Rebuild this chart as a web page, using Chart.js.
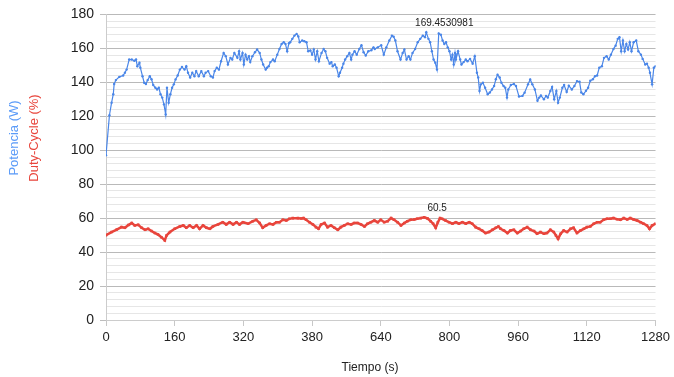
<!DOCTYPE html>
<html lang="es">
<head>
<meta charset="UTF-8">
<title>Potencia y Duty-Cycle</title>
<script src="https://cdn.jsdelivr.net/npm/chart.js@4.4.0/dist/chart.umd.min.js"></script>
<style>
  body { margin: 0; background: #fff; }
  #grafica { display: block; }
</style>
</head>
<body>
<canvas id="grafica" width="674" height="377"></canvas>
<script>
// datos
const potenciaT = [0,8,13,17,19,23,31,40,44,48,54,60,66,70,73,78,80,85,89,93,97,102,106,110,115,119,123,127,131,135,139,142,146,150,154,158,162,167,172,177,183,187,191,196,201,206,210,216,222,228,232,238,244,249,253,258,263,268,274,279,284,290,294,299,306,310,313,318,321,325,329,333,336,341,347,352,358,362,366,372,375,379,383,389,393,399,404,409,414,418,422,426,429,434,439,444,448,451,457,462,467,471,476,480,484,488,492,496,502,507,511,515,521,525,528,533,537,542,545,550,553,557,562,567,571,574,579,584,590,595,600,605,611,618,623,626,633,641,647,653,660,666,670,674,679,686,691,695,700,705,709,714,720,726,732,738,743,746,751,755,759,763,767,771,775,780,784,788,792,796,800,804,807,810,813,815,820,825,828,833,838,842,848,854,859,864,867,870,873,878,883,889,894,899,904,908,912,917,921,926,930,934,937,943,950,955,962,970,975,983,988,993,999,1005,1009,1013,1020,1025,1029,1035,1039,1044,1049,1053,1057,1063,1067,1073,1078,1085,1091,1097,1103,1107,1112,1118,1123,1128,1134,1139,1144,1149,1155,1160,1166,1171,1176,1182,1187,1192,1196,1200,1204,1208,1212,1216,1220,1224,1229,1235,1240,1246,1250,1256,1260,1264,1267,1272,1276,1280];
const potencia = [97,120.6,128,133,139,141.3,143.2,144,145.6,147.5,153.4,153.4,152.7,153.4,149.5,151.5,148.6,143.6,139.7,139,141.3,143.6,141.8,138.4,136.8,135.8,136.8,133,131,127,121,136.8,128,133,136.8,138.8,141.7,144,147.5,149,147.5,149.5,145.6,142.8,145.6,143.6,146.6,143.6,146.6,143.6,145.6,146.6,143.6,142.8,146.6,148.6,147.5,152.4,157.3,155.4,150.5,154.4,153.4,157.3,154.4,158.3,153.4,157.3,150.5,156.3,153.4,155.4,151.9,155.4,157.7,159.3,157.3,153.4,150.5,147.5,148.6,149.5,151.9,153.4,152.4,156.3,159.6,162.6,163.6,162.6,158.3,163,163.6,165.6,167.5,168.5,167,163.6,164.6,164.2,163.6,158.3,158.8,156.3,159.3,153.4,158.3,152.4,157.3,159.6,158.3,154.4,151,151.9,149.5,150.5,148.6,143.6,145.6,148.6,151,153.4,155.4,157.3,153.4,156.3,158.3,156.3,159.6,161.8,157.7,155.8,158.3,158.9,160.6,159.6,160.6,161.8,156.3,160.6,164.6,167.5,166.8,164.6,158.3,153.4,157.3,159.3,153.4,155.4,153.4,157.3,159.6,163.6,165.6,167.5,166.6,169.4530981,165.6,163.6,158.3,153.4,151.5,147.5,168.8,168,164.6,162.6,163.6,160.6,158.3,153.4,156.3,150.5,157.3,153.4,158.3,153.4,150.5,151.9,153.4,152.4,153.8,151,155.4,145.6,142.8,134.9,138.8,139.7,136.8,133,134,135.8,137.8,141.8,144.5,142.8,139.7,137.8,136.8,131,135.8,138.4,139,137.8,131.6,132,133.9,138.8,141.7,138.8,135.8,129.1,131,132.2,130,132,131,134.9,137.3,130,134.9,128,131,136.8,138.4,134.3,138,135.8,137.8,140.7,140.3,134,133,135,136.8,140.9,141.8,143.6,144,148.6,149.5,154.4,155.4,153.4,156.3,159.6,161.6,165.6,166.6,158.3,164.6,158.3,162.6,159.3,163.6,158.3,163.6,164.6,158.3,156.3,153.8,150.5,151,148.6,145.6,138.8,148.6,149.5];

const dutyT = [0,13,25,36,44,52,60,67,75,83,91,98,106,114,121,129,137,141,149,160,172,180,187,195,203,211,218,226,234,242,249,261,272,280,288,296,304,311,319,331,342,350,358,365,373,381,389,397,404,412,420,427,435,447,455,460,466,474,482,489,495,501,509,516,524,532,540,547,555,563,571,578,586,594,602,609,617,625,633,640,648,656,664,671,679,687,695,702,710,718,725,733,741,749,756,762,768,773,778,783,791,799,807,815,822,830,838,846,853,861,869,876,884,892,900,908,914,919,927,935,942,950,958,966,973,981,989,997,1004,1012,1020,1027,1035,1043,1048,1053,1059,1066,1074,1082,1089,1097,1105,1113,1120,1128,1136,1144,1151,1159,1167,1175,1182,1190,1198,1206,1214,1221,1229,1237,1245,1252,1260,1266,1272,1280];
const duty = [50,51.8,53.3,54.7,54.3,55.9,57.1,55.7,56.1,54.3,53.1,53.7,52.4,51.2,50.4,48.8,46.9,49.8,51.8,53.7,55.1,55.7,54.3,55.7,54.3,55.7,53.7,55.7,54.3,53.7,55.1,56.3,57.6,56.3,57.6,56.3,57.6,56.3,57.6,56.7,58.2,59,57.1,54.3,55.7,56.7,56.3,57.6,57.6,59,58.6,59.6,60,60,59.8,60,59,57.6,56.3,54.7,53.7,56.3,57.1,54.7,55.7,54.3,53.1,54.7,55.7,56.7,56.3,57.1,57.1,56.3,55.1,56.7,57.6,58.6,57.6,59,57.6,58.2,60,59,57.6,55.7,57.1,58.2,59,59.2,59.6,60,60.5,59.8,58.2,56.7,54.3,57.6,60,59.6,58.6,57.6,56.7,57.6,56.7,57.6,56.7,57.6,56.7,54.7,53.7,52.7,51.2,51.8,53.1,54.3,55.1,53.7,52.7,51.2,52.7,53.1,51.2,52.4,53.7,54.7,53.1,52.4,50.8,51.8,50.8,51.2,53.1,51.8,49.8,47.8,50.8,52.7,51.8,53.7,54.3,51.2,52.7,53.7,54.7,55.1,56.7,57.6,57.6,59,59.6,59.6,60,59.4,59,60,59.2,60,59.2,58.6,57.6,56.7,55.7,53.7,55.7,56.7];

const xTickLabels = ['0','160','320','380','640','800','960','1120','1280'];
const tituloPotencia = 'Potencia (W)';
const tituloDuty = 'Duty-Cycle (%)';
const tituloTiempo = 'Tiempo (s)';

const azul = '#4a86e8';
const rojo = '#e8453c';
const fuente = '"Liberation Sans", Arial, sans-serif';

// titulos de los ejes y etiqueta del maximo
const rotulos = {
  id: 'rotulos',
  afterDraw(chart) {
    const c = chart.ctx;
    c.save();
    c.textAlign = 'center';
    c.textBaseline = 'middle';
    c.font = '13px ' + fuente;
    c.translate(14, 138);
    c.rotate(-Math.PI / 2);
    c.fillStyle = '#5b9bf8';
    c.fillText(tituloPotencia, 0, 0);
    c.fillStyle = rojo;
    c.fillText(tituloDuty, 0, 20);
    c.restore();

    c.save();
    c.font = '12px ' + fuente;
    c.fillStyle = '#222';
    c.textAlign = 'center';
    c.textBaseline = 'middle';
    c.fillText(tituloTiempo, 370, 368);

    c.font = '10px ' + fuente;
    c.textBaseline = 'bottom';
    chart.data.datasets.forEach((ds, k) => {
      const vals = ds.data.map(p => p.y);
      const i = vals.indexOf(Math.max(...vals));
      const el = chart.getDatasetMeta(k).data[i];
      c.fillText(String(vals[i]), el.x + ds.labelDx, el.y - 4);
    });
    c.restore();
  }
};

const ctx = document.getElementById('grafica').getContext('2d');
new Chart(ctx, {
  type: 'line',
  data: {
    datasets: [{
      label: tituloPotencia,
      data: potenciaT.map((t, i) => ({ x: t, y: potencia[i] })),
      borderColor: azul,
      backgroundColor: azul,
      borderWidth: 1.2,
      pointRadius: 1.2,
      pointBorderWidth: 0,
      tension: 0,
      labelDx: 18
    }, {
      label: tituloDuty,
      data: dutyT.map((t, i) => ({ x: t, y: duty[i] })),
      borderColor: rojo,
      backgroundColor: rojo,
      borderWidth: 2.5,
      pointStyle: 'rect',
      pointRadius: 1.8,
      pointBorderWidth: 0,
      tension: 0,
      labelDx: 13
    }]
  },
  options: {
    responsive: false,
    animation: false,
    devicePixelRatio: 1,
    layout: { padding: { top: 13, right: 17, left: 0, bottom: 0 } },
    plugins: {
      legend: { display: false },
      tooltip: { enabled: false }
    },
    scales: {
      x: {
        type: 'linear',
        min: 0,
        max: 1280,
        afterFit: s => { s.height = 57; },
        ticks: {
          stepSize: 160,
          autoSkip: false,
          maxRotation: 0,
          padding: 4,
          color: '#222',
          font: { size: 13, family: fuente },
          callback: v => xTickLabels[Math.round(v / 160)]
        },
        grid: { drawOnChartArea: false, tickLength: 6, color: '#c8c8c8' },
        border: { color: '#cccccc' }
      },
      y: {
        min: 0,
        max: 180,
        afterFit: s => { s.width = 106; },
        ticks: {
          stepSize: 4,
          autoSkip: false,
          padding: 6,
          color: '#222',
          font: { size: 14, family: fuente },
          callback: v => (v % 20 === 0 ? v : '')
        },
        grid: {
          tickLength: 6,
          color: c => (c.tick && c.tick.value % 20 === 0 ? '#b9b9b9' : '#e6e6e6'),
          tickColor: c => (c.tick && c.tick.value % 20 === 0 ? '#bdbdbd' : 'rgba(0,0,0,0)')
        },
        border: { color: '#cccccc' }
      }
    }
  },
  plugins: [rotulos]
});
</script>
</body>
</html>
